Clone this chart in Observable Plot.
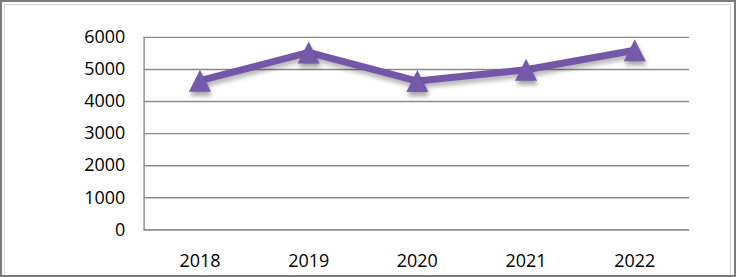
<!DOCTYPE html>
<html>
<head>
<meta charset="utf-8">
<script src="https://cdn.jsdelivr.net/npm/d3@7"></script>
<script src="https://cdn.jsdelivr.net/npm/@observablehq/plot@0.6"></script>
<style>
  html, body { margin: 0; padding: 0; background: #fff; }
  #wrap {
    position: relative; width: 736px; height: 277px; box-sizing: border-box;
    border: 2px solid #7a7a7a; background: #fff; overflow: hidden;
  }
  #inner {
    position: absolute; left: 2px; top: 2px; right: 3px; bottom: 0px;
    border: 1px solid #d6d6d6; border-bottom: none; pointer-events: none;
  }
  #chart { position: absolute; left: -2px; top: -2px; }
  #chart svg { font-family: "Open Sans", sans-serif; }
  #chart g[aria-label="line"] { filter: drop-shadow(1px 4px 2px rgba(0,0,0,0.28)); }
  #chart g[aria-label="dot"] { filter: drop-shadow(1px 4px 2px rgba(0,0,0,0.35)); }
</style>
</head>
<body>
<div id="wrap"><div id="inner"></div><div id="chart"></div></div>
<script>
const years = ["2018", "2019", "2020", "2021", "2022"];
const values = [4650, 5530, 4640, 4990, 5600];
const yTicks = [0, 1000, 2000, 3000, 4000, 5000, 6000];

const data = years.map((y, i) => ({year: y, value: values[i]}));

const triangleBox = {
  draw(context, size) {
    const r = Math.sqrt(size / Math.PI);
    const w = r * 2.6, h = r * 2.6;
    context.moveTo(0, -h / 2);
    context.lineTo(w / 2, h / 2);
    context.lineTo(-w / 2, h / 2);
    context.closePath();
  }
};

const chart = Plot.plot({
  width: 736,
  height: 277,
  marginLeft: 144,
  marginRight: 45,
  marginTop: 37,
  marginBottom: 47,
  style: {fontSize: "18px", color: "#000", background: "transparent", overflow: "visible"},
  x: {type: "point", domain: years, padding: 0.5, label: null},
  y: {domain: [0, 6000], label: null},
  marks: [
    Plot.gridY(yTicks, {stroke: "#8a8a8a", strokeOpacity: 1, strokeWidth: 1.4}),
    Plot.frame({anchor: "left", stroke: "#8a8a8a", strokeWidth: 1.4}),
    Plot.ruleY([0], {stroke: "#8a8a8a", strokeWidth: 1.4}),
    Plot.axisY(yTicks, {tickSize: 0, tickPadding: 19, tickFormat: d => String(d), fill: "#000", fontSize: 18}),
    Plot.axisX(years, {tickSize: 0, tickPadding: 24, fill: "#000", fontSize: 18}),
    Plot.line(data, {x: "year", y: "value", stroke: "#7557a8", strokeWidth: 7, strokeLinejoin: "miter", strokeLinecap: "butt"}),
    Plot.dot(data, {x: "year", y: "value", symbol: triangleBox, r: 8.5, fill: "#7659ab", stroke: "none"})
  ]
});
document.getElementById("chart").appendChild(chart);
</script>
</body>
</html>
